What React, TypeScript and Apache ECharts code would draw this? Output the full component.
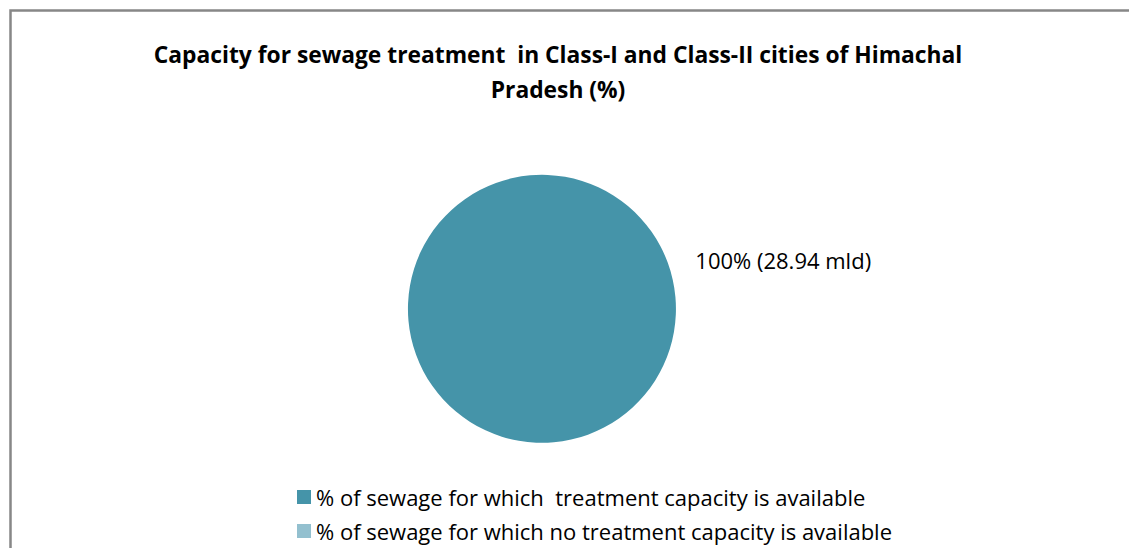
import React, { useEffect, useRef } from "react";
import * as echarts from "echarts";

const titleLines = [
  "Capacity for sewage treatment  in Class-I and Class-II cities of Himachal",
  "Pradesh (%)",
];
const categories = [
  "% of sewage for which  treatment capacity is available",
  "% of sewage for which no treatment capacity is available",
];
const values = [100, 0];
const volumes = ["28.94 mld", ""];
const colors = ["#4594A9", "#93C0CF"];

export default function App() {
  const ref = useRef<HTMLDivElement>(null);
  useEffect(() => {
    if (!ref.current) return;
    const chart = echarts.init(ref.current, null, { renderer: "svg" });
    const font = "'Open Sans', sans-serif";
    chart.setOption({
      animation: false,
      backgroundColor: "#ffffff",
      title: {
        text: titleLines.join("\n"),
        left: 553,
        top: 32,
        textAlign: "center",
        textStyle: {
          fontFamily: font,
          fontWeight: "bold",
          fontSize: 22.8,
          lineHeight: 35,
          color: "#000000",
        },
      },
      legend: {
        orient: "vertical",
        left: 292,
        top: 481,
        height: 120,
        icon: "rect",
        itemWidth: 14,
        itemHeight: 14,
        itemGap: 12,
        textStyle: { fontFamily: font, fontSize: 22, color: "#000000" },
        data: categories,
      },
      graphic: [
        {
          type: "rect",
          shape: { x: 10.5, y: 10.5, width: 1200, height: 600 },
          style: { fill: "none", stroke: "#878787", lineWidth: 2.5 },
          silent: true,
        },
      ],
      series: [
        {
          type: "pie",
          center: [542, 309],
          radius: 134,
          startAngle: 200,
          clockwise: true,
          minShowLabelAngle: 1,
          label: {
            show: true,
            position: "outside",
            fontFamily: font,
            fontSize: 22,
            color: "#000000",
            formatter: (p: any) => `${p.value}% (${volumes[p.dataIndex]})`,
          },
          labelLine: { show: false, length: 10, length2: 13 },
          itemStyle: { borderWidth: 0 },
          emphasis: { disabled: true },
          data: categories.map((name, i) => ({
            name,
            value: values[i],
            itemStyle: { color: colors[i] },
            label: { show: values[i] > 0 },
          })),
        },
      ],
    });
    return () => chart.dispose();
  }, []);
  return (
    <div
      ref={ref}
      style={{ position: "fixed", left: 0, top: 0, width: 1129, height: 548 }}
    />
  );
}
